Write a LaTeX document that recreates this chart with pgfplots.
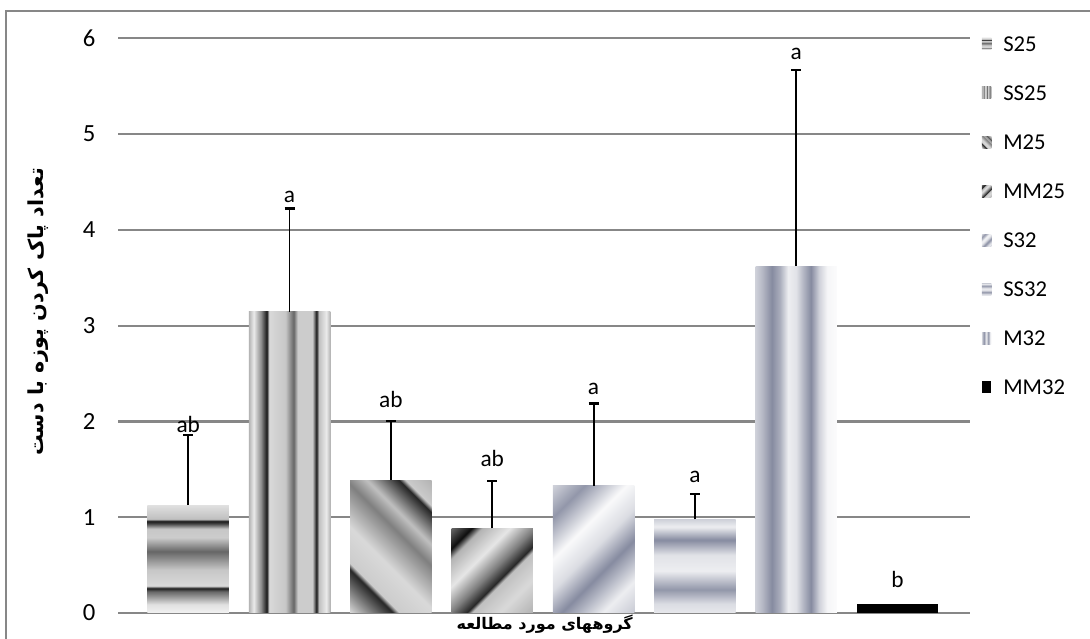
\documentclass[border=0pt]{standalone}
\usepackage{fontspec}
\setmainfont{Carlito}
\newfontfamily\arabicfont[Script=Arabic]{DejaVu Sans}
\TeXXeTstate=1
\usepackage{pgfplots}
\pgfplotsset{compat=1.18}
\definecolor{steel}{RGB}{134,139,160}
\definecolor{gridgray}{RGB}{135,135,135}

\pgfdeclareverticalshading{shSa}{100bp}{color(0bp)=(black!5); color(25bp)=(black!5); color(29bp)=(black!12); color(35bp)=(black!60); color(36.5bp)=(black!90); color(37.5bp)=(black!15); color(45bp)=(black!22); color(53.5bp)=(black!60); color(60bp)=(black!20); color(64bp)=(black!22); color(66.5bp)=(black!75); color(67.5bp)=(black!90); color(68.5bp)=(black!25); color(75bp)=(black!12); color(100bp)=(black!12)}
\pgfdeclarehorizontalshading{shSSa}{100bp}{color(0bp)=(black!30); color(25bp)=(black!30); color(28bp)=(black!8); color(32.5bp)=(black!45); color(36bp)=(black!90); color(37.5bp)=(black!15); color(47.5bp)=(black!22); color(52.5bp)=(black!60); color(55bp)=(black!20); color(64bp)=(black!20); color(66.5bp)=(black!90); color(68bp)=(black!25); color(72.5bp)=(black!8); color(75bp)=(black!30); color(100bp)=(black!30)}
\pgfdeclarehorizontalshading{shMa}{100bp}{color(0bp)=(black!15); color(14.6bp)=(black!15); color(28.8bp)=(black!85); color(30.9bp)=(black!20); color(42.9bp)=(black!15); color(57.1bp)=(black!50); color(64.1bp)=(black!25); color(74.7bp)=(black!85); color(76.9bp)=(black!20); color(85.4bp)=(black!30); color(100bp)=(black!30)}
\pgfdeclarehorizontalshading{shMMa}{100bp}{color(0bp)=(black!60); color(14.6bp)=(black!60); color(23.1bp)=(black!95); color(27.4bp)=(black!30); color(39.4bp)=(black!10); color(50bp)=(black!50); color(57.1bp)=(black!85); color(59.2bp)=(black!25); color(71.2bp)=(black!15); color(85.4bp)=(black!30); color(100bp)=(black!30)}
\pgfdeclarehorizontalshading{shSb}{100bp}{color(0bp)=(steel!40); color(14.6bp)=(steel!40); color(25.2bp)=(steel!90); color(39.4bp)=(steel!5); color(50bp)=(steel!30); color(60.6bp)=(steel); color(74.7bp)=(steel!15); color(85.4bp)=(steel!45); color(100bp)=(steel!45)}
\pgfdeclareverticalshading{shSSb}{100bp}{color(0bp)=(steel!20); color(25bp)=(steel!20); color(30bp)=(steel!30); color(37.5bp)=(steel!90); color(47.5bp)=(steel!15); color(56bp)=(steel!25); color(64bp)=(steel); color(71bp)=(steel!15); color(75bp)=(steel!40); color(100bp)=(steel!40)}
\pgfdeclarehorizontalshading{shMb}{100bp}{color(0bp)=(steel!40); color(25bp)=(steel!40); color(29bp)=(steel!60); color(35bp)=(steel); color(40bp)=(steel!70); color(45bp)=(steel!15); color(50bp)=(steel!25); color(54bp)=(steel!60); color(59bp)=(steel); color(64bp)=(steel!40); color(69bp)=(steel!8); color(75bp)=(steel!3); color(100bp)=(steel!3)}

\begin{document}
\begin{tikzpicture}
\useasboundingbox (-88.725pt,-19.5pt) rectangle (728.775pt,459.75pt);
\draw[gridgray, line width=1.5pt] (-83.85pt,-40pt) -- (-83.85pt,451.5pt) -- (760pt,451.5pt);
\begin{axis}[
  at={(0pt,0pt)}, anchor=south west,
  scale only axis, width=638.8pt, height=431pt,
  xmin=-0.69, xmax=7.715, ymin=0, ymax=6,
  axis line style={draw=none},
  xtick=\empty, ytick={0,1,2,3,4,5,6},
  ymajorgrids, major grid style={gridgray, line width=1.6pt},
  major tick length=0pt,
  /pgf/number format/assume math mode=true,
  yticklabel style={font=\fontsize{18.5}{21}\selectfont, inner sep=0pt, xshift=-17pt},
  clip=false,
  legend cell align=left,
  legend image code/.code={\path[#1, draw=none] (0pt,-4.5pt) rectangle (7pt,4.5pt);},
  legend style={draw=none, fill=none, at={(1.0137,1.0035)}, anchor=north west,
    inner sep=0pt, font=\fontsize{17}{19}\selectfont, row sep=25.8pt,
    nodes={inner xsep=2pt, inner ysep=0pt, text height=11pt, text depth=0pt},
    /tikz/every odd column/.append style={column sep=7pt}},
]
\addplot[ybar, bar width=61.1pt, bar shift=0pt, draw=none, shade, shading=shSa] coordinates {(0,1.127)};
\addlegendentry{S25}
\addplot[ybar, bar width=61.1pt, bar shift=0pt, draw=none, shade, shading=shSSa] coordinates {(1,3.145)};
\addlegendentry{SS25}
\addplot[ybar, bar width=61.1pt, bar shift=0pt, draw=none, shade, shading=shMa, shading angle=45] coordinates {(2,1.388)};
\addlegendentry{M25}
\addplot[ybar, bar width=61.1pt, bar shift=0pt, draw=none, shade, shading=shMMa, shading angle=-45] coordinates {(3,0.884)};
\addlegendentry{MM25}
\addplot[ybar, bar width=61.1pt, bar shift=0pt, draw=none, shade, shading=shSb, shading angle=-45] coordinates {(4,1.326)};
\addlegendentry{S32}
\addplot[ybar, bar width=61.1pt, bar shift=0pt, draw=none, shade, shading=shSSb] coordinates {(5,0.978)};
\addlegendentry{SS32}
\addplot[ybar, bar width=61.1pt, bar shift=0pt, draw=none, shade, shading=shMb] coordinates {(6,3.622)};
\addlegendentry{M32}
\addplot[ybar, bar width=61.1pt, bar shift=0pt, draw=none, fill=black] coordinates {(7,0.094)};
\addlegendentry{MM32}

\addplot[forget plot, draw=none, mark=none,
  error bars/.cd, y dir=plus, y explicit,
  error bar style={draw=black, line width=1.4pt},
  error mark=-,
  error mark options={draw=black, line width=1.9pt, mark size=3.75pt, rotate=90}]
  coordinates {
  (0,1.127) +- (0,0.731)
  (1,3.145) +- (0,1.080)
  (2,1.388) +- (0,0.619)
  (3,0.884) +- (0,0.494)
  (4,1.326) +- (0,0.863)
  (5,0.978) +- (0,0.264)
  (6,3.622) +- (0,2.046)
  };

\addplot[forget plot, draw=none, mark=none, nodes near coords, point meta=explicit symbolic,
  every node near coord/.append style={anchor=south, inner sep=0pt, yshift=0pt, black, font=\fontsize{17.5}{20}\selectfont}]
  table[meta=lab] {
x y lab
0 1.88 ab
1 4.28 a
2 2.14 ab
3 1.52 ab
4 2.28 a
5 1.36 a
6 5.77 a
7 0.26 b
};
\end{axis}
\node[rotate=90, font=\arabicfont\bfseries\fontsize{15.5}{17}\selectfont] at (-60.2pt,225.75pt) {\beginR تعداد پاک کردن پوزه با دست\endR};
\node[font=\arabicfont\bfseries\fontsize{12}{14}\selectfont] at (319.8pt,-8.25pt) {\beginR گروههای مورد مطالعه\endR};
\end{tikzpicture}
\end{document}
